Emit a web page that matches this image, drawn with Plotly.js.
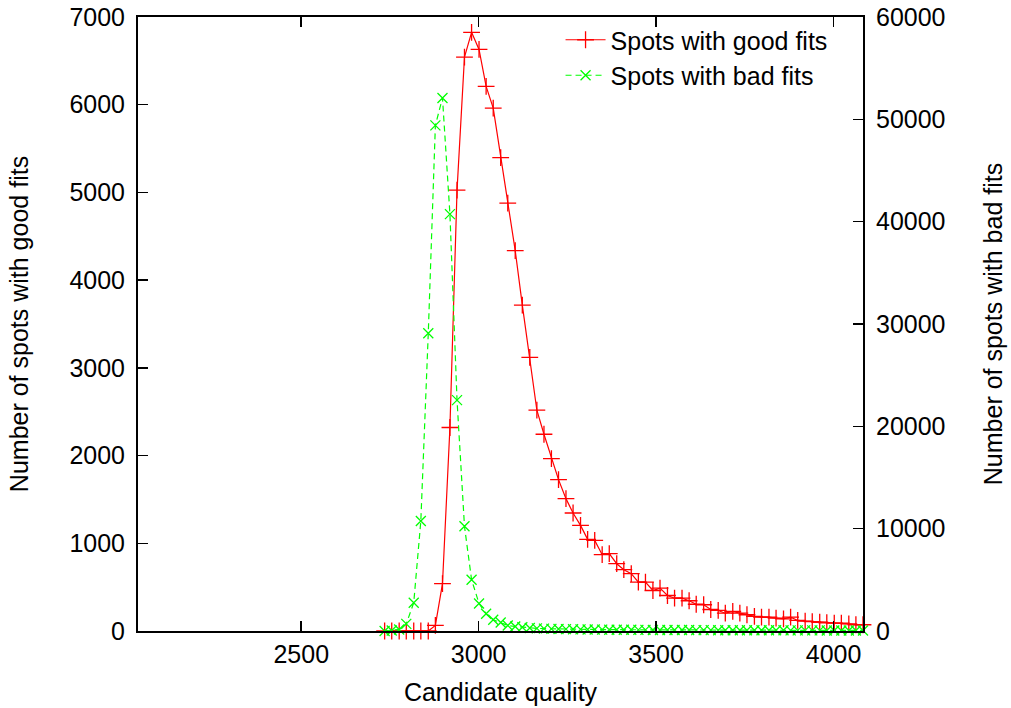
<!DOCTYPE html>
<html>
<head>
<meta charset="utf-8">
<script src="https://cdn.plot.ly/plotly-3.0.1.min.js"></script>
<style>html,body{margin:0;padding:0;background:#fff;}#chart{width:1011px;height:708px;}</style>
</head>
<body>
<div id="chart"></div>
<script>
var quality = [2735,2755,2776,2796,2817,2837,2858,2878,2898,2919,2939,2960,2980,3001,3021,3041,3062,3082,3103,3123,3144,3164,3184,3205,3225,3246,3266,3287,3307,3327,3348,3368,3389,3409,3430,3450,3470,3491,3511,3532,3552,3573,3593,3613,3634,3654,3675,3695,3716,3736,3756,3777,3797,3818,3838,3859,3879,3899,3920,3940,3961,3981,4002,4022,4043,4063,4083];
var goodFits = [0,0,0,0,0,0,0,63,539,2320,5026,6543,6825,6630,6208,5961,5397,4877,4336,3716,3119,2517,2243,1966,1726,1509,1345,1204,1045,1033,870,881,767,699,653,557,557,462,489,405,374,374,345,305,299,245,234,203,223,203,185,166,158,158,146,139,158,120,112,108,100,94,89,89,82,71,71];
var badFits = [0,50,150,700,2760,10750,29090,49410,52090,40735,22560,10228,5011,2690,1680,1100,830,540,440,360,300,260,230,210,190,180,170,160,150,140,135,130,125,120,118,112,108,105,100,98,95,92,90,88,85,83,80,78,76,75,73,71,70,68,66,65,63,62,60,59,58,57,56,55,54,53,52];
var xTitle = "Candidate quality";
var yTitle = "Number of spots with good fits";
var y2Title = "Number of spots with bad fits";
var goodName = "Spots with good fits";
var badName = "Spots with bad fits";

var FONT = "Liberation Sans, Arial, Helvetica, sans-serif";
var FS = 25;

var traces = [
  {
    x: quality, y: goodFits, name: goodName, type: "scatter", mode: "lines+markers",
    line: {color: "#ff0000", width: 1.2},
    marker: {symbol: "cross-thin-open", size: 12, color: "#ff0000", line: {color: "#ff0000", width: 1.3}},
    cliponaxis: false
  },
  {
    x: quality, y: badFits, name: badName, type: "scatter", mode: "lines+markers", yaxis: "y2",
    line: {color: "#00ff00", width: 1.2, dash: "6px,4px"},
    marker: {symbol: "x-thin-open", size: 10, color: "#00ff00", line: {color: "#00ff00", width: 1.3}},
    cliponaxis: false
  }
];

var layout = {
  width: 1011, height: 708,
  margin: {l: 138, r: 148, t: 17, b: 77},
  paper_bgcolor: "#ffffff", plot_bgcolor: "#ffffff",
  font: {family: FONT, size: FS, color: "#000000"},
  showlegend: true,
  legend: {
    x: 0.958, xanchor: "right", y: 1.0, yanchor: "top",
    bgcolor: "rgba(0,0,0,0)", font: {family: FONT, size: FS, color: "#000"},
    tracegroupgap: 0, itemwidth: 40
  },
  xaxis: {
    range: [2040, 4083], tick0: 0, dtick: 500,
    ticks: "inside", ticklen: 10, tickwidth: 1.5, tickcolor: "#000",
    showline: true, linewidth: 2, linecolor: "#000", mirror: "ticks",
    showgrid: false, zeroline: false,
    tickfont: {family: FONT, size: FS, color: "#000"},
    title: {text: xTitle, font: {family: FONT, size: FS, color: "#000"}, standoff: 16},
    automargin: false
  },
  yaxis: {
    range: [0, 7000], tick0: 0, dtick: 1000, tickformat: "d",
    ticks: "inside", ticklen: 10, tickwidth: 1.5, tickcolor: "#000",
    showline: true, linewidth: 2, linecolor: "#000", mirror: false,
    showgrid: false, zeroline: false, ticklabelstandoff: 6,
    tickfont: {family: FONT, size: FS, color: "#000"},
    title: {text: yTitle, font: {family: FONT, size: FS, color: "#000"}, standoff: 34},
    automargin: false
  },
  yaxis2: {
    range: [0, 60000], tick0: 0, dtick: 10000, tickformat: "d", overlaying: "y", side: "right",
    ticks: "inside", ticklen: 10, tickwidth: 1.5, tickcolor: "#000",
    showline: true, linewidth: 2, linecolor: "#000",
    showgrid: false, zeroline: false, ticklabelstandoff: 6,
    tickfont: {family: FONT, size: FS, color: "#000"},
    title: {text: y2Title, font: {family: FONT, size: FS, color: "#000"}, standoff: 40},
    automargin: false
  }
};

Plotly.newPlot("chart", traces, layout, {displayModeBar: false, staticPlot: true});
</script>
</body>
</html>
